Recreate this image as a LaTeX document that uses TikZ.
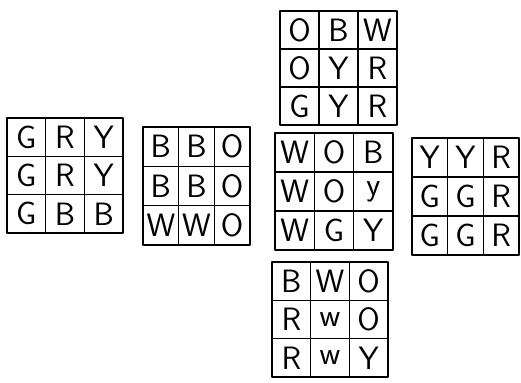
\documentclass[tikz,border=0pt]{standalone}
\tikzset{
  facebox/.style={line width=2.6pt, line join=round},
  cellline/.style={line width=1.8pt},
  sticker/.style={font=\sffamily\fontsize{46}{46}\selectfont, inner sep=0pt, anchor=center},
}
\newcommand\cubeface[6]{%
  \begin{scope}[shift={(#2,#3)}]
    \foreach \l [count=\i from 0] in {#6} {
      \pgfmathtruncatemacro\cc{mod(\i,3)}
      \pgfmathtruncatemacro\rr{floor(\i/3)}
      \node[sticker] (#1-\i) at ({(\cc+0.5)*#4/3},{(\rr+0.5)*#5/3}) {\l};
    }
    \draw[cellline] ({#4/3},0) -- ({#4/3},#5);
    \draw[cellline] ({2*#4/3},0) -- ({2*#4/3},#5);
    \draw[cellline] (0,{#5/3}) -- (#4,{#5/3});
    \draw[cellline] (0,{2*#5/3}) -- (#4,{2*#5/3});
    \draw[facebox] (0,0) rectangle (#4,#5);
  \end{scope}}
\begin{document}
\begin{tikzpicture}[x=0.05cm, y=-0.05cm]
  \useasboundingbox[fill=white] (0,0) rectangle (521,383);
  \cubeface{up}{280}{11}{117}{114}{O,B,W,O,Y,R,G,Y,R}
  \cubeface{left}{7}{118}{116}{115}{G,R,Y,G,R,Y,G,B,B}
  \cubeface{back}{143}{127}{107}{118}{B,B,O,B,B,O,W,W,O}
  \cubeface{front}{275}{133}{118}{117}{W,O,B,W,O,y,W,G,Y}
  \cubeface{right}{412}{138}{107}{117}{Y,Y,R,G,G,R,G,G,R}
  \cubeface{down}{272}{262}{116}{115}{B,W,O,R,w,O,R,w,Y}
\end{tikzpicture}
\end{document}
